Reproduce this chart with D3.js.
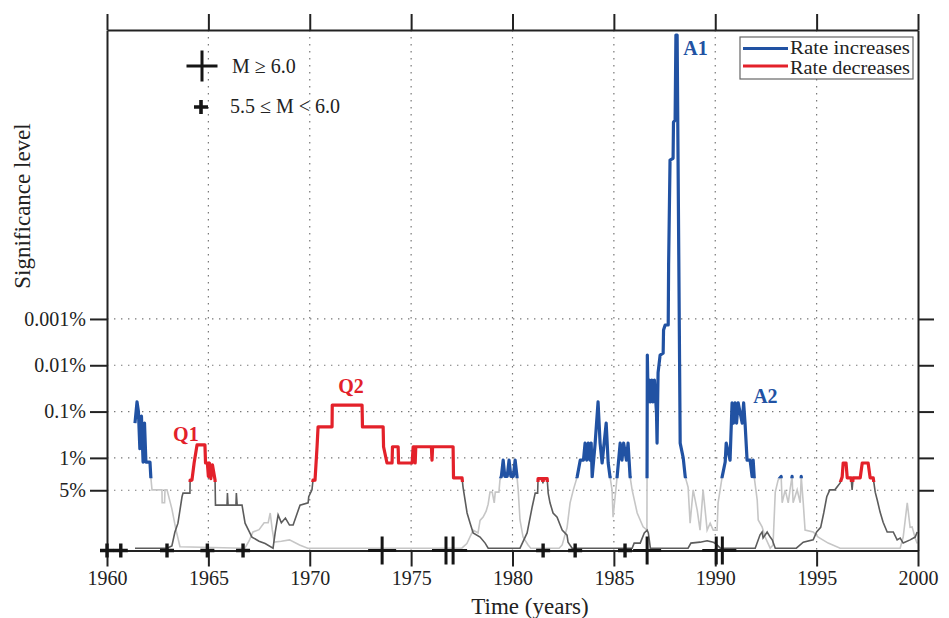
<!DOCTYPE html>
<html>
<head>
<meta charset="utf-8">
<script src="https://cdn.jsdelivr.net/npm/d3@7"></script>
<style>
  body { margin: 0; background: #fff; }
  svg text { font-family: "Liberation Serif", "DejaVu Serif", serif; fill: #222; }
</style>
</head>
<body>
<div id="chart"></div>
<script>
// ---- data ----
const yearTicks = [1960, 1965, 1970, 1975, 1980, 1985, 1990, 1995, 2000];
const sigTicks = [1.301, 2, 3, 4, 5];          // -log10(p)
const sigLabels = ["5%", "1%", "0.1%", "0.01%", "0.001%"];

// rate increase test, [year, -log10 p]
const increaseSeries = [
    [1961.38, 2.75], [1961.48, 3.21], [1961.55, 3.0], [1961.62, 2.2], [1961.70, 2.9],
    [1961.78, 1.91], [1961.85, 2.75], [1961.92, 1.91], [1962.12, 1.91], [1962.16, 1.59],
    [1962.22, 1.31], [1962.71, 1.31], [1962.72, 1.03], [1962.84, 1.03], [1962.86, 1.31],
    [1962.96, 1.31], [1963.2, 0.9], [1963.4, 0.45], [1963.6, 0.08], [1966.8, 0.05],
    [1967.0, 0.2], [1967.2, 0.4], [1967.5, 0.45], [1967.75, 0.6], [1967.95, 0.6],
    [1968.05, 0.81], [1968.15, 0.45], [1968.25, 0.18], [1968.6, 0.2], [1969.0, 0.23],
    [1969.5, 0.12], [1969.9, 0.05], [1977.5, 0.05], [1977.75, 0.15], [1978.06, 0.44],
    [1978.3, 0.38], [1978.4, 0.65], [1978.55, 0.72], [1978.7, 0.85], [1978.8, 1.0],
    [1978.89, 1.26], [1979.0, 1.26], [1979.1, 1.03], [1979.15, 1.26], [1979.33, 1.26],
    [1979.38, 1.52], [1979.45, 1.6], [1979.54, 1.95], [1979.62, 1.6], [1979.74, 1.6],
    [1979.83, 1.95], [1979.92, 1.6], [1980.04, 1.6], [1980.13, 1.95], [1980.22, 1.6],
    [1980.28, 1.31], [1980.37, 0.66], [1980.52, 0.29], [1980.77, 0.12], [1980.9, 0.05],
    [1982.3, 0.05], [1982.45, 0.12], [1982.69, 0.49], [1982.84, 1.03], [1983.0, 1.31],
    [1983.19, 1.59], [1983.34, 1.95], [1983.5, 1.95], [1983.58, 2.32], [1983.66, 1.95],
    [1983.74, 2.32], [1983.82, 1.95], [1983.88, 2.32], [1983.93, 1.59], [1984.07, 2.28],
    [1984.22, 3.21], [1984.32, 2.32], [1984.42, 1.89], [1984.62, 2.75], [1984.72, 1.89],
    [1984.81, 1.59], [1984.91, 1.31], [1984.96, 0.72], [1985.16, 1.59], [1985.31, 2.32],
    [1985.40, 1.95], [1985.48, 2.32], [1985.62, 1.95], [1985.70, 2.32], [1985.80, 1.59],
    [1985.90, 1.31], [1986.15, 0.81], [1986.44, 0.51], [1986.63, 0.44],
    [1986.65, 4.22], [1986.69, 3.21], [1986.75, 3.68], [1986.80, 3.21], [1986.87, 3.68],
    [1986.93, 3.21], [1987.00, 3.68], [1987.10, 3.0], [1987.13, 2.32], [1987.18, 3.84],
    [1987.28, 4.22], [1987.43, 4.26], [1987.45, 4.76], [1987.53, 4.87], [1987.68, 4.87],
    [1987.70, 6.17], [1987.77, 8.43], [1987.92, 8.47], [1987.94, 9.25], [1988.02, 9.29],
    [1988.06, 11.13], [1988.12, 11.13], [1988.27, 2.32], [1988.42, 2.0], [1988.52, 1.59],
    [1988.66, 1.37], [1988.76, 0.59], [1988.91, 1.31], [1989.11, 0.87], [1989.25, 0.44],
    [1989.40, 1.31], [1989.60, 0.44], [1989.75, 0.59], [1989.90, 0.44], [1990.09, 0.44],
    [1990.14, 1.03], [1990.34, 1.59], [1990.49, 1.91], [1990.54, 2.32], [1990.73, 1.95],
    [1990.83, 3.19], [1990.90, 2.75], [1990.98, 3.19], [1991.05, 2.75], [1991.13, 3.19],
    [1991.33, 2.75], [1991.40, 3.19], [1991.47, 2.75], [1991.57, 1.95], [1991.72, 1.95],
    [1991.82, 1.59], [1991.87, 1.95], [1991.92, 1.59], [1992.07, 1.09], [1992.12, 0.66],
    [1992.31, 0.51], [1992.46, 0.29], [1992.71, 0.05], [1992.85, 0.12], [1992.96, 1.26],
    [1993.10, 1.52], [1993.25, 1.60], [1993.30, 1.03], [1993.45, 1.31], [1993.60, 1.03],
    [1993.70, 1.35], [1993.79, 1.60], [1993.84, 1.03], [1994.04, 1.31], [1994.19, 1.03],
    [1994.24, 1.60], [1994.34, 1.03], [1994.43, 0.44], [1994.83, 0.40], [1995.08, 0.29],
    [1995.57, 0.16], [1996.16, 0.05], [1999.12, 0.05], [1999.27, 0.29], [1999.47, 1.03],
    [1999.61, 0.5], [1999.71, 0.51], [1999.86, 0.27], [1999.96, 0.15]
];

// rate decrease test, [year, -log10 p]
const decreaseSeries = [
    [1961.38, 0.05], [1962.96, 0.05], [1963.2, 0.1], [1963.35, 0.4], [1963.5, 0.59],
    [1963.7, 1.16], [1963.75, 1.24], [1964.09, 1.24], [1964.1, 1.52], [1964.19, 1.52],
    [1964.3, 1.9], [1964.44, 2.28], [1964.83, 2.28], [1964.86, 1.89], [1964.95, 1.89],
    [1965.0, 1.6], [1965.05, 1.89], [1965.12, 1.55], [1965.2, 1.85], [1965.33, 1.52],
    [1965.35, 0.98], [1965.92, 0.98], [1965.94, 1.24], [1965.97, 0.98], [1966.36, 0.98],
    [1966.38, 1.24], [1966.42, 0.98], [1966.66, 0.98], [1966.81, 0.59], [1967.15, 0.29],
    [1967.5, 0.2], [1967.8, 0.15], [1968.19, 0.05], [1968.3, 0.4], [1968.44, 0.77],
    [1968.6, 0.6], [1968.8, 0.7], [1969.0, 0.55], [1969.18, 0.55], [1969.52, 0.98],
    [1969.92, 1.03], [1969.95, 1.16], [1970.11, 1.31], [1970.16, 1.52], [1970.26, 1.52],
    [1970.36, 2.24], [1970.41, 2.67], [1971.10, 2.67], [1971.11, 3.14], [1972.58, 3.14],
    [1972.60, 2.67], [1973.62, 2.67], [1973.64, 2.24], [1973.81, 1.89], [1974.06, 1.89],
    [1974.08, 2.24], [1974.36, 2.24], [1974.38, 1.89], [1975.05, 1.89], [1975.10, 2.24],
    [1975.17, 2.24], [1975.20, 1.89], [1975.23, 2.24], [1976.0, 2.24], [1976.03, 1.95],
    [1976.06, 2.24], [1977.07, 2.24], [1977.09, 1.57], [1977.51, 1.57], [1977.56, 1.37],
    [1977.76, 0.81], [1977.91, 0.59], [1978.06, 0.38], [1978.40, 0.29], [1978.65, 0.16],
    [1978.80, 0.05], [1980.37, 0.05], [1980.72, 0.38], [1980.97, 0.94], [1981.12, 1.24],
    [1981.24, 1.24], [1981.26, 1.55], [1981.48, 1.55], [1981.5, 1.45], [1981.53, 1.55],
    [1981.71, 1.55], [1981.76, 1.24], [1981.85, 1.03], [1982.00, 0.81], [1982.20, 0.72],
    [1982.35, 0.55], [1982.45, 0.44], [1982.69, 0.33], [1982.74, 0.18], [1982.94, 0.05],
    [1985.9, 0.05], [1986.0, 0.16], [1986.3, 0.16], [1986.5, 0.38], [1986.64, 0.44],
    [1986.7, 0.38], [1986.8, 0.05], [1988.66, 0.05], [1988.8, 0.16], [1989.25, 0.18],
    [1989.6, 0.21], [1989.9, 0.18], [1990.09, 0.12], [1990.25, 0.05], [1991.97, 0.05],
    [1992.21, 0.34], [1992.31, 0.40], [1992.36, 0.27], [1992.56, 0.40], [1992.71, 0.29],
    [1992.81, 0.23], [1992.96, 0.05], [1994.0, 0.05], [1994.34, 0.18], [1994.83, 0.23],
    [1995.0, 0.4], [1995.2, 0.5], [1995.35, 0.81], [1995.5, 1.16], [1995.65, 1.31],
    [1995.9, 1.31], [1996.16, 1.46], [1996.26, 1.59], [1996.31, 1.89], [1996.45, 1.89],
    [1996.51, 1.57], [1996.7, 1.57], [1996.75, 1.31], [1996.8, 1.57], [1997.15, 1.57],
    [1997.25, 1.89], [1997.54, 1.89], [1997.64, 1.57], [1997.79, 1.57], [1997.89, 1.26],
    [1997.99, 1.09], [1998.13, 0.83], [1998.28, 0.61], [1998.48, 0.40], [1998.78, 0.40],
    [1998.97, 0.23], [1999.12, 0.27], [1999.27, 0.16], [1999.61, 0.23], [1999.86, 0.29],
    [1999.96, 0.40]
];

// earthquakes (year of occurrence)
const quakesLarge = [1973.57, 1976.72, 1977.07, 1986.64, 1990.05, 1990.35];
const quakesSmall = [1960.0, 1960.68, 1962.96, 1964.95, 1966.71, 1981.51, 1983.09, 1985.55];

const incThreshold = 1.56;
const decThreshold = 1.48;

const peakLabels = [
    { text: "A1", year: 1988.42, value: 10.70, type: "inc" },
    { text: "A2", year: 1991.87, value: 3.19, type: "inc" },
    { text: "Q1", year: 1963.26, value: 2.36, type: "dec" },
    { text: "Q2", year: 1971.40, value: 3.40, type: "dec" }
];

// ---- chart ----
const width = 949, height = 618;
const mLeft = 107, mRight = 918, mTop = 30, mBottom = 550.5;
const blue = "#2152a3", red = "#e3212a";

const svg = d3.select("#chart").append("svg")
    .attr("width", width)
    .attr("height", height);

const x = d3.scaleLinear().domain([1960, 2000]).range([mLeft, mRight]);
const y = d3.scaleLinear().domain([0, 11.24]).range([mBottom, mTop]);

// grid
const grid = svg.append("g").attr("stroke", "#777").attr("stroke-width", 1.2)
    .attr("stroke-dasharray", "1.4 5.6");
grid.selectAll(".gx")
    .data(yearTicks.slice(1, -1))
    .enter().append("line")
    .attr("x1", d => x(d)).attr("x2", d => x(d))
    .attr("y1", mTop).attr("y2", mBottom);
grid.selectAll(".gy")
    .data(sigTicks)
    .enter().append("line")
    .attr("x1", mLeft).attr("x2", mRight)
    .attr("y1", d => y(d)).attr("y2", d => y(d));

// clips for coloured parts
const defs = svg.append("defs");
defs.append("clipPath").attr("id", "clipInc").append("rect")
    .attr("x", mLeft).attr("y", 0).attr("width", mRight - mLeft).attr("height", y(incThreshold));
defs.append("clipPath").attr("id", "clipDec").append("rect")
    .attr("x", mLeft).attr("y", 0).attr("width", mRight - mLeft).attr("height", y(decThreshold));

const line = d3.line().x(d => x(d[0])).y(d => y(d[1]));

svg.append("path").datum(increaseSeries)
    .attr("d", line).attr("fill", "none")
    .attr("stroke", "#c6c6c6").attr("stroke-width", 1.6);
svg.append("path").datum(decreaseSeries)
    .attr("d", line).attr("fill", "none")
    .attr("stroke", "#5c5c5c").attr("stroke-width", 1.6);

svg.append("path").datum(increaseSeries)
    .attr("d", line).attr("fill", "none")
    .attr("stroke", blue).attr("stroke-width", 3.2)
    .attr("stroke-linejoin", "round")
    .attr("clip-path", "url(#clipInc)");
svg.append("path").datum(decreaseSeries)
    .attr("d", line).attr("fill", "none")
    .attr("stroke", red).attr("stroke-width", 3.2)
    .attr("stroke-linejoin", "round")
    .attr("clip-path", "url(#clipDec)");

// axes
function styleAxis(g) {
    g.select(".domain").attr("stroke", "#222").attr("stroke-width", 2);
    g.selectAll(".tick line").attr("stroke", "#222").attr("stroke-width", 2);
    g.selectAll(".tick text").attr("font-size", 20).attr("fill", "#222")
        .attr("font-family", "Liberation Serif");
}

svg.append("g")
    .attr("transform", `translate(0,${mBottom})`)
    .call(d3.axisBottom(x).tickValues(yearTicks).tickFormat(d3.format("d"))
        .tickSize(16).tickSizeOuter(0).tickPadding(4))
    .call(styleAxis);

svg.append("g")
    .attr("transform", `translate(0,${mTop})`)
    .call(d3.axisTop(x).tickValues(yearTicks).tickFormat("")
        .tickSize(16).tickSizeOuter(0))
    .call(styleAxis);

svg.append("g")
    .attr("transform", `translate(${mLeft},0)`)
    .call(d3.axisLeft(y).tickValues(sigTicks).tickFormat((d, i) => sigLabels[i])
        .tickSize(17).tickSizeOuter(0).tickPadding(4))
    .call(styleAxis);

svg.append("g")
    .attr("transform", `translate(${mRight},0)`)
    .call(d3.axisRight(y).tickValues(sigTicks).tickFormat("")
        .tickSize(16).tickSizeOuter(0))
    .call(styleAxis);

// earthquakes on baseline
function cross(g, cx, cy, s, w) {
    g.append("path")
        .attr("d", `M${cx - s},${cy}H${cx + s}M${cx},${cy - s}V${cy + s}`)
        .attr("stroke", "#151515").attr("stroke-width", w).attr("fill", "none");
}
const quakeG = svg.append("g");
quakesLarge.forEach(d => cross(quakeG, x(d), y(0), 14, 3));
quakesSmall.forEach(d => cross(quakeG, x(d), y(0), 7, 3.4));

// peak labels
svg.selectAll(".peak")
    .data(peakLabels)
    .enter().append("text")
    .attr("x", d => x(d.year))
    .attr("y", d => y(d.value))
    .attr("font-size", 20)
    .attr("font-weight", "bold")
    .style("fill", d => d.type === "inc" ? blue : red)
    .text(d => d.text);

// magnitude legend
cross(svg, 202, 66, 15.5, 3);
cross(svg, 201, 107, 7, 3.6);
svg.append("text").attr("x", 232).attr("y", 73).attr("font-size", 20).text("M \u2265 6.0");
svg.append("text").attr("x", 230).attr("y", 113).attr("font-size", 20).text("5.5 \u2264 M < 6.0");

// series legend
const leg = svg.append("g");
leg.append("rect")
    .attr("x", 740).attr("y", 37).attr("width", 173).attr("height", 42)
    .attr("fill", "#fff").attr("stroke", "#666").attr("stroke-width", 1.2);
[["Rate increases", blue, 48.5, 54], ["Rate decreases", red, 66, 74]].forEach(([t, c, ly, ty]) => {
    leg.append("line").attr("x1", 743).attr("x2", 788).attr("y1", ly).attr("y2", ly)
        .attr("stroke", c).attr("stroke-width", 3);
    leg.append("text").attr("x", 790).attr("y", ty).attr("font-size", 18.5)
        .attr("textLength", 120).attr("lengthAdjust", "spacingAndGlyphs").text(t);
});

// axis titles
svg.append("text")
    .attr("x", 530).attr("y", 614)
    .attr("text-anchor", "middle").attr("font-size", 23)
    .text("Time (years)");
svg.append("text")
    .attr("transform", "translate(30,206) rotate(-90)")
    .attr("text-anchor", "middle").attr("font-size", 23)
    .text("Significance level");
</script>
</body>
</html>
